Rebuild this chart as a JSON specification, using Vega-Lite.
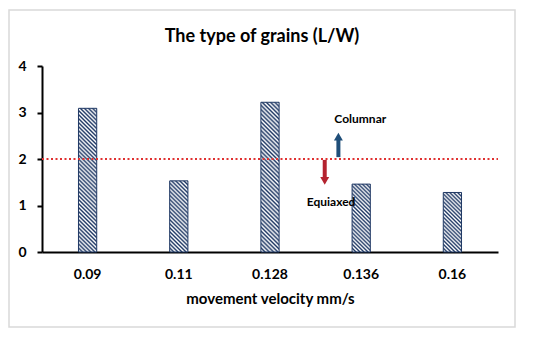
{
"$schema": "https://vega.github.io/schema/vega-lite/v6.json",
"width": 506, "height": 317,
"autosize": {"type": "none"},
"padding": {"left": 9, "top": 10, "right": 35, "bottom": 10},
"background": "white",
"config": {"view": {"stroke": "#d9d9d9", "strokeWidth": 1.5}, "font": "Lato"},
"title": {"text": "The type of grains (L/W)", "fontSize": 18, "fontWeight": "bold", "font": "Lato", "color": "black", "offset": -36, "anchor": "middle"},
"layer": [
{
"data": {"values": [{"v": "0.09", "lw": 3.09}, {"v": "0.11", "lw": 1.53}, {"v": "0.128", "lw": 3.22}, {"v": "0.136", "lw": 1.46}, {"v": "0.16", "lw": 1.28}]},
"mark": {"type": "bar", "stroke": "#1f3864", "strokeWidth": 1},
"encoding": {
"x": {"field": "v", "type": "ordinal", "sort": null, "scale": {"range": [33, 489], "paddingInner": 0.8, "paddingOuter": 0.4},
 "axis": {"title": "movement velocity mm/s", "titleFontSize": 15, "titleFontWeight": "bold", "titleColor": "black", "titleFont": "Lato", "titlePadding": 10,
  "labelFontSize": 14, "labelFontWeight": "bold", "labelColor": "black", "labelFont": "Lato", "labelAngle": 0, "labelPadding": 15,
  "ticks": false, "tickSize": 0, "domainColor": "black", "domainWidth": 2, "offset": -75, "grid": false}},
"y": {"field": "lw", "type": "quantitative", "scale": {"domain": [0, 4], "range": [242, 56], "nice": false},
 "axis": {"title": null, "values": [0, 1, 2, 3, 4], "format": "d", "labelFontSize": 14, "labelFontWeight": "bold", "labelColor": "black", "labelFont": "Lato", "labelPadding": 11,
  "ticks": true, "tickSize": 5, "tickWidth": 2, "tickColor": "black", "domainColor": "black", "domainWidth": 2, "offset": -33, "grid": false}},
"fill": {"condition": [
{"test": "datum.v === '0.09'", "value": {"gradient": "linear", "x1": 0, "y1": 1, "x2": 0.139, "y2": -0.108, "stops": [{"offset":0,"color":"#1f3864"},{"offset":0.0125,"color":"#fff"},{"offset":0.025,"color":"#1f3864"},{"offset":0.0375,"color":"#fff"},{"offset":0.05,"color":"#1f3864"},{"offset":0.0625,"color":"#fff"},{"offset":0.075,"color":"#1f3864"},{"offset":0.0875,"color":"#fff"},{"offset":0.1,"color":"#1f3864"},{"offset":0.1125,"color":"#fff"},{"offset":0.125,"color":"#1f3864"},{"offset":0.1375,"color":"#fff"},{"offset":0.15,"color":"#1f3864"},{"offset":0.1625,"color":"#fff"},{"offset":0.175,"color":"#1f3864"},{"offset":0.1875,"color":"#fff"},{"offset":0.2,"color":"#1f3864"},{"offset":0.2125,"color":"#fff"},{"offset":0.225,"color":"#1f3864"},{"offset":0.2375,"color":"#fff"},{"offset":0.25,"color":"#1f3864"},{"offset":0.2625,"color":"#fff"},{"offset":0.275,"color":"#1f3864"},{"offset":0.2875,"color":"#fff"},{"offset":0.3,"color":"#1f3864"},{"offset":0.3125,"color":"#fff"},{"offset":0.325,"color":"#1f3864"},{"offset":0.3375,"color":"#fff"},{"offset":0.35,"color":"#1f3864"},{"offset":0.3625,"color":"#fff"},{"offset":0.375,"color":"#1f3864"},{"offset":0.3875,"color":"#fff"},{"offset":0.4,"color":"#1f3864"},{"offset":0.4125,"color":"#fff"},{"offset":0.425,"color":"#1f3864"},{"offset":0.4375,"color":"#fff"},{"offset":0.45,"color":"#1f3864"},{"offset":0.4625,"color":"#fff"},{"offset":0.475,"color":"#1f3864"},{"offset":0.4875,"color":"#fff"},{"offset":0.5,"color":"#1f3864"},{"offset":0.5125,"color":"#fff"},{"offset":0.525,"color":"#1f3864"},{"offset":0.5375,"color":"#fff"},{"offset":0.55,"color":"#1f3864"},{"offset":0.5625,"color":"#fff"},{"offset":0.575,"color":"#1f3864"},{"offset":0.5875,"color":"#fff"},{"offset":0.6,"color":"#1f3864"},{"offset":0.6125,"color":"#fff"},{"offset":0.625,"color":"#1f3864"},{"offset":0.6375,"color":"#fff"},{"offset":0.65,"color":"#1f3864"},{"offset":0.6625,"color":"#fff"},{"offset":0.675,"color":"#1f3864"},{"offset":0.6875,"color":"#fff"},{"offset":0.7,"color":"#1f3864"},{"offset":0.7125,"color":"#fff"},{"offset":0.725,"color":"#1f3864"},{"offset":0.7375,"color":"#fff"},{"offset":0.75,"color":"#1f3864"},{"offset":0.7625,"color":"#fff"},{"offset":0.775,"color":"#1f3864"},{"offset":0.7875,"color":"#fff"},{"offset":0.8,"color":"#1f3864"},{"offset":0.8125,"color":"#fff"},{"offset":0.825,"color":"#1f3864"},{"offset":0.8375,"color":"#fff"},{"offset":0.85,"color":"#1f3864"},{"offset":0.8625,"color":"#fff"},{"offset":0.875,"color":"#1f3864"},{"offset":0.8875,"color":"#fff"},{"offset":0.9,"color":"#1f3864"},{"offset":0.9125,"color":"#fff"},{"offset":0.925,"color":"#1f3864"},{"offset":0.9375,"color":"#fff"},{"offset":0.95,"color":"#1f3864"},{"offset":0.9625,"color":"#fff"},{"offset":0.975,"color":"#1f3864"},{"offset":0.9875,"color":"#fff"},{"offset":1,"color":"#1f3864"}]}},
{"test": "datum.v === '0.128'", "value": {"gradient": "linear", "x1": 0, "y1": 1, "x2": 0.133, "y2": -0.104, "stops": [{"offset":0,"color":"#1f3864"},{"offset":0.0125,"color":"#fff"},{"offset":0.025,"color":"#1f3864"},{"offset":0.0375,"color":"#fff"},{"offset":0.05,"color":"#1f3864"},{"offset":0.0625,"color":"#fff"},{"offset":0.075,"color":"#1f3864"},{"offset":0.0875,"color":"#fff"},{"offset":0.1,"color":"#1f3864"},{"offset":0.1125,"color":"#fff"},{"offset":0.125,"color":"#1f3864"},{"offset":0.1375,"color":"#fff"},{"offset":0.15,"color":"#1f3864"},{"offset":0.1625,"color":"#fff"},{"offset":0.175,"color":"#1f3864"},{"offset":0.1875,"color":"#fff"},{"offset":0.2,"color":"#1f3864"},{"offset":0.2125,"color":"#fff"},{"offset":0.225,"color":"#1f3864"},{"offset":0.2375,"color":"#fff"},{"offset":0.25,"color":"#1f3864"},{"offset":0.2625,"color":"#fff"},{"offset":0.275,"color":"#1f3864"},{"offset":0.2875,"color":"#fff"},{"offset":0.3,"color":"#1f3864"},{"offset":0.3125,"color":"#fff"},{"offset":0.325,"color":"#1f3864"},{"offset":0.3375,"color":"#fff"},{"offset":0.35,"color":"#1f3864"},{"offset":0.3625,"color":"#fff"},{"offset":0.375,"color":"#1f3864"},{"offset":0.3875,"color":"#fff"},{"offset":0.4,"color":"#1f3864"},{"offset":0.4125,"color":"#fff"},{"offset":0.425,"color":"#1f3864"},{"offset":0.4375,"color":"#fff"},{"offset":0.45,"color":"#1f3864"},{"offset":0.4625,"color":"#fff"},{"offset":0.475,"color":"#1f3864"},{"offset":0.4875,"color":"#fff"},{"offset":0.5,"color":"#1f3864"},{"offset":0.5125,"color":"#fff"},{"offset":0.525,"color":"#1f3864"},{"offset":0.5375,"color":"#fff"},{"offset":0.55,"color":"#1f3864"},{"offset":0.5625,"color":"#fff"},{"offset":0.575,"color":"#1f3864"},{"offset":0.5875,"color":"#fff"},{"offset":0.6,"color":"#1f3864"},{"offset":0.6125,"color":"#fff"},{"offset":0.625,"color":"#1f3864"},{"offset":0.6375,"color":"#fff"},{"offset":0.65,"color":"#1f3864"},{"offset":0.6625,"color":"#fff"},{"offset":0.675,"color":"#1f3864"},{"offset":0.6875,"color":"#fff"},{"offset":0.7,"color":"#1f3864"},{"offset":0.7125,"color":"#fff"},{"offset":0.725,"color":"#1f3864"},{"offset":0.7375,"color":"#fff"},{"offset":0.75,"color":"#1f3864"},{"offset":0.7625,"color":"#fff"},{"offset":0.775,"color":"#1f3864"},{"offset":0.7875,"color":"#fff"},{"offset":0.8,"color":"#1f3864"},{"offset":0.8125,"color":"#fff"},{"offset":0.825,"color":"#1f3864"},{"offset":0.8375,"color":"#fff"},{"offset":0.85,"color":"#1f3864"},{"offset":0.8625,"color":"#fff"},{"offset":0.875,"color":"#1f3864"},{"offset":0.8875,"color":"#fff"},{"offset":0.9,"color":"#1f3864"},{"offset":0.9125,"color":"#fff"},{"offset":0.925,"color":"#1f3864"},{"offset":0.9375,"color":"#fff"},{"offset":0.95,"color":"#1f3864"},{"offset":0.9625,"color":"#fff"},{"offset":0.975,"color":"#1f3864"},{"offset":0.9875,"color":"#fff"},{"offset":1,"color":"#1f3864"}]}},
{"test": "datum.v === '0.11'", "value": {"gradient": "linear", "x1": 0, "y1": 1, "x2": 0.298, "y2": -0.178, "stops": [{"offset":0,"color":"#1f3864"},{"offset":0.0227,"color":"#fff"},{"offset":0.0455,"color":"#1f3864"},{"offset":0.0682,"color":"#fff"},{"offset":0.0909,"color":"#1f3864"},{"offset":0.1136,"color":"#fff"},{"offset":0.1364,"color":"#1f3864"},{"offset":0.1591,"color":"#fff"},{"offset":0.1818,"color":"#1f3864"},{"offset":0.2045,"color":"#fff"},{"offset":0.2273,"color":"#1f3864"},{"offset":0.25,"color":"#fff"},{"offset":0.2727,"color":"#1f3864"},{"offset":0.2955,"color":"#fff"},{"offset":0.3182,"color":"#1f3864"},{"offset":0.3409,"color":"#fff"},{"offset":0.3636,"color":"#1f3864"},{"offset":0.3864,"color":"#fff"},{"offset":0.4091,"color":"#1f3864"},{"offset":0.4318,"color":"#fff"},{"offset":0.4545,"color":"#1f3864"},{"offset":0.4773,"color":"#fff"},{"offset":0.5,"color":"#1f3864"},{"offset":0.5227,"color":"#fff"},{"offset":0.5455,"color":"#1f3864"},{"offset":0.5682,"color":"#fff"},{"offset":0.5909,"color":"#1f3864"},{"offset":0.6136,"color":"#fff"},{"offset":0.6364,"color":"#1f3864"},{"offset":0.6591,"color":"#fff"},{"offset":0.6818,"color":"#1f3864"},{"offset":0.7045,"color":"#fff"},{"offset":0.7273,"color":"#1f3864"},{"offset":0.75,"color":"#fff"},{"offset":0.7727,"color":"#1f3864"},{"offset":0.7955,"color":"#fff"},{"offset":0.8182,"color":"#1f3864"},{"offset":0.8409,"color":"#fff"},{"offset":0.8636,"color":"#1f3864"},{"offset":0.8864,"color":"#fff"},{"offset":0.9091,"color":"#1f3864"},{"offset":0.9318,"color":"#fff"},{"offset":0.9545,"color":"#1f3864"},{"offset":0.9773,"color":"#fff"},{"offset":1,"color":"#1f3864"}]}},
{"test": "datum.v === '0.136'", "value": {"gradient": "linear", "x1": 0, "y1": 1, "x2": 0.313, "y2": -0.182, "stops": [{"offset":0,"color":"#1f3864"},{"offset":0.0227,"color":"#fff"},{"offset":0.0455,"color":"#1f3864"},{"offset":0.0682,"color":"#fff"},{"offset":0.0909,"color":"#1f3864"},{"offset":0.1136,"color":"#fff"},{"offset":0.1364,"color":"#1f3864"},{"offset":0.1591,"color":"#fff"},{"offset":0.1818,"color":"#1f3864"},{"offset":0.2045,"color":"#fff"},{"offset":0.2273,"color":"#1f3864"},{"offset":0.25,"color":"#fff"},{"offset":0.2727,"color":"#1f3864"},{"offset":0.2955,"color":"#fff"},{"offset":0.3182,"color":"#1f3864"},{"offset":0.3409,"color":"#fff"},{"offset":0.3636,"color":"#1f3864"},{"offset":0.3864,"color":"#fff"},{"offset":0.4091,"color":"#1f3864"},{"offset":0.4318,"color":"#fff"},{"offset":0.4545,"color":"#1f3864"},{"offset":0.4773,"color":"#fff"},{"offset":0.5,"color":"#1f3864"},{"offset":0.5227,"color":"#fff"},{"offset":0.5455,"color":"#1f3864"},{"offset":0.5682,"color":"#fff"},{"offset":0.5909,"color":"#1f3864"},{"offset":0.6136,"color":"#fff"},{"offset":0.6364,"color":"#1f3864"},{"offset":0.6591,"color":"#fff"},{"offset":0.6818,"color":"#1f3864"},{"offset":0.7045,"color":"#fff"},{"offset":0.7273,"color":"#1f3864"},{"offset":0.75,"color":"#fff"},{"offset":0.7727,"color":"#1f3864"},{"offset":0.7955,"color":"#fff"},{"offset":0.8182,"color":"#1f3864"},{"offset":0.8409,"color":"#fff"},{"offset":0.8636,"color":"#1f3864"},{"offset":0.8864,"color":"#fff"},{"offset":0.9091,"color":"#1f3864"},{"offset":0.9318,"color":"#fff"},{"offset":0.9545,"color":"#1f3864"},{"offset":0.9773,"color":"#fff"},{"offset":1,"color":"#1f3864"}]}},
{"test": "datum.v === '0.16'", "value": {"gradient": "linear", "x1": 0, "y1": 1, "x2": 0.361, "y2": -0.193, "stops": [{"offset":0,"color":"#1f3864"},{"offset":0.025,"color":"#fff"},{"offset":0.05,"color":"#1f3864"},{"offset":0.075,"color":"#fff"},{"offset":0.1,"color":"#1f3864"},{"offset":0.125,"color":"#fff"},{"offset":0.15,"color":"#1f3864"},{"offset":0.175,"color":"#fff"},{"offset":0.2,"color":"#1f3864"},{"offset":0.225,"color":"#fff"},{"offset":0.25,"color":"#1f3864"},{"offset":0.275,"color":"#fff"},{"offset":0.3,"color":"#1f3864"},{"offset":0.325,"color":"#fff"},{"offset":0.35,"color":"#1f3864"},{"offset":0.375,"color":"#fff"},{"offset":0.4,"color":"#1f3864"},{"offset":0.425,"color":"#fff"},{"offset":0.45,"color":"#1f3864"},{"offset":0.475,"color":"#fff"},{"offset":0.5,"color":"#1f3864"},{"offset":0.525,"color":"#fff"},{"offset":0.55,"color":"#1f3864"},{"offset":0.575,"color":"#fff"},{"offset":0.6,"color":"#1f3864"},{"offset":0.625,"color":"#fff"},{"offset":0.65,"color":"#1f3864"},{"offset":0.675,"color":"#fff"},{"offset":0.7,"color":"#1f3864"},{"offset":0.725,"color":"#fff"},{"offset":0.75,"color":"#1f3864"},{"offset":0.775,"color":"#fff"},{"offset":0.8,"color":"#1f3864"},{"offset":0.825,"color":"#fff"},{"offset":0.85,"color":"#1f3864"},{"offset":0.875,"color":"#fff"},{"offset":0.9,"color":"#1f3864"},{"offset":0.925,"color":"#fff"},{"offset":0.95,"color":"#1f3864"},{"offset":0.975,"color":"#fff"},{"offset":1,"color":"#1f3864"}]}}
], "value": "#8090b0"}
}
},
{
"layer": [
{
"data": {"values": [{"a": 0, "b": 5, "y": 2}]},
"mark": {"type": "rule", "color": "#e03131", "strokeWidth": 2, "strokeDash": [2, 2.5]},
"encoding": {
"x": {"field": "a", "type": "quantitative", "scale": {"domain": [0, 5], "range": [33, 489], "nice": false, "zero": false}, "axis": null},
"x2": {"field": "b"},
"y": {"field": "y", "type": "quantitative"}
}
},
{
"data": {"values": [{"x": 3.25, "y": 2.04, "y2": 2.46}]},
"mark": {"type": "rule", "color": "#1f4e79", "strokeWidth": 4},
"encoding": {
"x": {"field": "x", "type": "quantitative", "scale": {"domain": [0, 5], "range": [33, 489], "nice": false, "zero": false}, "axis": null},
"y": {"field": "y", "type": "quantitative"},
"y2": {"field": "y2"}
}
},
{
"data": {"values": [{"x": 3.10, "y": 1.98, "y2": 1.55}]},
"mark": {"type": "rule", "color": "#b4232f", "strokeWidth": 4},
"encoding": {
"x": {"field": "x", "type": "quantitative", "scale": {"domain": [0, 5], "range": [33, 489], "nice": false, "zero": false}, "axis": null},
"y": {"field": "y", "type": "quantitative"},
"y2": {"field": "y2"}
}
},
{
"data": {"values": [{"x": 3.25, "y": 2.48}]},
"mark": {"type": "point", "shape": "triangle-up", "filled": true, "size": 80, "color": "#1f4e79", "opacity": 1},
"encoding": {
"x": {"field": "x", "type": "quantitative", "scale": {"domain": [0, 5], "range": [33, 489], "nice": false, "zero": false}, "axis": null},
"y": {"field": "y", "type": "quantitative"}
}
},
{
"data": {"values": [{"x": 3.10, "y": 1.53}]},
"mark": {"type": "point", "shape": "triangle-down", "filled": true, "size": 80, "color": "#b4232f", "opacity": 1},
"encoding": {
"x": {"field": "x", "type": "quantitative", "scale": {"domain": [0, 5], "range": [33, 489], "nice": false, "zero": false}, "axis": null},
"y": {"field": "y", "type": "quantitative"}
}
},
{
"data": {"values": [{"x": 3.49, "y": 2.86, "label": "Columnar"}, {"x": 3.17, "y": 1.075, "label": "Equiaxed"}]},
"mark": {"type": "text", "font": "Lato", "fontWeight": "bold", "fontSize": 12, "color": "black", "align": "center", "baseline": "middle"},
"encoding": {
"x": {"field": "x", "type": "quantitative", "scale": {"domain": [0, 5], "range": [33, 489], "nice": false, "zero": false}, "axis": null},
"y": {"field": "y", "type": "quantitative"},
"text": {"field": "label"}
}
}
]
}
],
"resolve": {"scale": {"x": "independent"}}
}
